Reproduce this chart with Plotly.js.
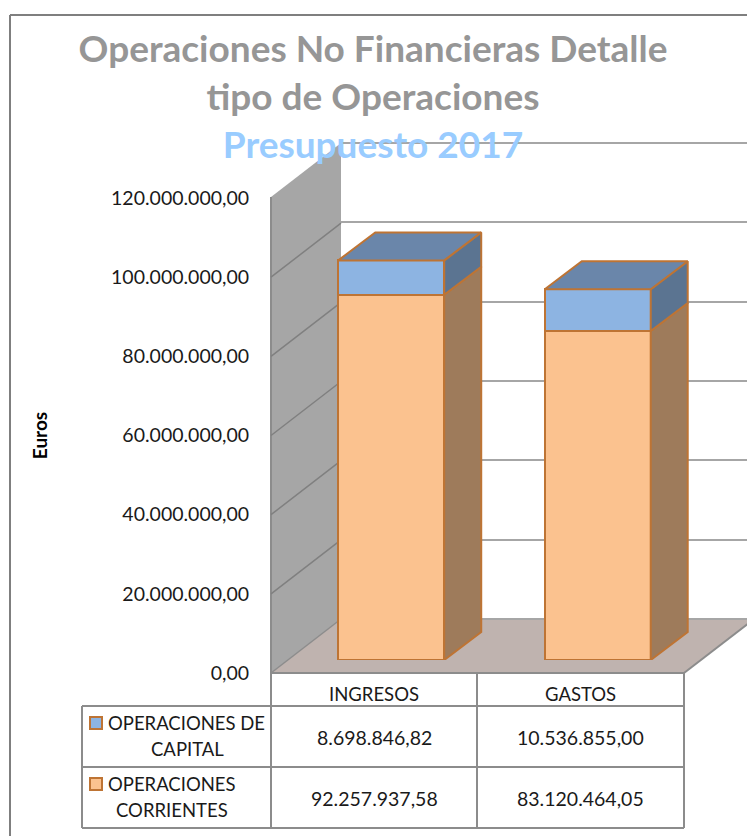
<!DOCTYPE html>
<html>
<head>
<meta charset="utf-8">
<script src="https://cdn.plot.ly/plotly-3.0.1.min.js"></script>
<style>html,body{margin:0;padding:0;background:#fff;overflow:hidden}#chart{width:747px;height:836px}</style>
</head>
<body>
<div id="chart"></div>
<script>
// ---- data ----
var categories = ['INGRESOS', 'GASTOS'];
var capital = [8698846.82, 10536855.00];
var corrientes = [92257937.58, 83120464.05];
var capitalLines = ['OPERACIONES DE', 'CAPITAL'];
var corrientesLines = ['OPERACIONES', 'CORRIENTES'];
var yTicks = [0, 20000000, 40000000, 60000000, 80000000, 100000000, 120000000];
var titleLines = ['Operaciones No Financieras Detalle', 'tipo de Operaciones'];
var subtitle = 'Presupuesto 2017';
var yTitle = 'Euros';

// ---- page geometry helpers ----
var W = 747, H = 836;
function X(p) { return p / W; }
function Y(p) { return 1 - p / H; }
var yMax = 120000000;
var pxPerUnit = 475 / yMax;
var barWidth = 0.513;
var depthX = 37 / 206.5;          // bar depth in category units
var depthY = 28 / pxPerUnit;      // bar depth in value units
var wallDy = 54 / pxPerUnit;      // axis plane to back wall, value units
var gridPad = 2 / pxPerUnit;      // keeps the end gridlines inside the wall axis

// ---- colours ----
var edge = '#BE7434';
var grey = '#A6A6A6', lineGrey = '#8C8C8C', textCol = '#1a1a1a';
var font = 'Lato, "Open Sans", sans-serif';

function fmt(n) {
  var s = n.toFixed(2).split('.');
  return s[0].replace(/\B(?=(\d{3})+$)/g, '.') + ',' + s[1];
}

// ---- 3D faces, derived from the values ----
function sideFace(bottoms, tops) {
  var xs = [], ys = [];
  categories.forEach(function (c, i) {
    var r = i + barWidth / 2;
    xs.push(r, r + depthX, r + depthX, r, r, null);
    ys.push(bottoms[i], bottoms[i] + depthY, tops[i] + depthY, tops[i], bottoms[i], null);
  });
  return { x: xs, y: ys };
}
function topFace(tops) {
  var xs = [], ys = [];
  categories.forEach(function (c, i) {
    var l = i - barWidth / 2, r = i + barWidth / 2;
    xs.push(l, l + depthX, r + depthX, r, l, null);
    ys.push(tops[i], tops[i] + depthY, tops[i] + depthY, tops[i], tops[i], null);
  });
  return { x: xs, y: ys };
}
var zeros = categories.map(function () { return 0; });
var totals = corrientes.map(function (v, i) { return v + capital[i]; });
var xIdx = categories.map(function (c, i) { return i; });

function faceTrace(f, color) {
  return {
    type: 'scatter', mode: 'lines', x: f.x, y: f.y, xaxis: 'x2', yaxis: 'y2',
    fill: 'toself', fillcolor: color, line: { color: edge, width: 2 },
    hoverinfo: 'skip', showlegend: false, cliponaxis: false
  };
}

var traces = [
  { type: 'bar', name: 'OPERACIONES CORRIENTES', x: xIdx, y: corrientes, width: barWidth,
    xaxis: 'x2', yaxis: 'y2', marker: { color: '#FBC28F', line: { color: edge, width: 2 } }, showlegend: false },
  { type: 'bar', name: 'OPERACIONES DE CAPITAL', x: xIdx, y: capital, width: barWidth,
    xaxis: 'x2', yaxis: 'y2', marker: { color: '#8DB4E2', line: { color: edge, width: 2 } }, showlegend: false },
  faceTrace(sideFace(zeros, corrientes), '#9E7B5B'),
  faceTrace(sideFace(corrientes, totals), '#5B7491'),
  faceTrace(topFace(totals), '#6A86AA'),
  // keep the wall and label axes alive
  { type: 'scatter', mode: 'none', x: [0], y: [0], xaxis: 'x', yaxis: 'y', hoverinfo: 'skip', showlegend: false },
  { type: 'scatter', mode: 'none', x: [0], y: [0], xaxis: 'x3', yaxis: 'y3', hoverinfo: 'skip', showlegend: false }
];

// ---- scenery ----
function poly(pts, fill, lineColor, lineWidth, layer) {
  var d = pts.map(function (p, i) { return (i ? 'L' : 'M') + X(p[0]) + ',' + Y(p[1]); }).join('') + 'Z';
  return { type: 'path', xref: 'paper', yref: 'paper', path: d, fillcolor: fill,
    line: { color: lineColor, width: lineWidth }, layer: layer || 'below' };
}
function seg(x0, y0, x1, y1, color, width, layer) {
  return { type: 'line', xref: 'paper', yref: 'paper', x0: X(x0), y0: Y(y0), x1: X(x1), y1: Y(y1),
    line: { color: color, width: width }, layer: layer || 'above' };
}
var shapes = [
  seg(10, 836, 10, 15, '#7F7F7F', 2),
  seg(10, 15, 747, 15, '#7F7F7F', 2),
  poly([[271, 197], [341, 143], [341, 619], [271, 673]], grey, 'rgba(0,0,0,0)', 0),
  poly([[271, 673], [341, 619], [754, 619], [684, 673]], '#BFB3AF', 'rgba(0,0,0,0)', 0),
  seg(271, 197, 271, 673, lineGrey, 2, 'below'),
  seg(271, 673, 684, 673, lineGrey, 2, 'below'),
  seg(684, 673, 754, 619, lineGrey, 2, 'below'),
  seg(271, 673, 341, 619, lineGrey, 1.5, 'below')
];
// wall diagonals at each tick
yTicks.slice(1, -1).forEach(function (v) {
  shapes.push({ type: 'line', xref: 'paper', yref: 'y3', x0: X(271), x1: X(341), y0: v, y1: v + wallDy,
    line: { color: '#808080', width: 1.5 }, layer: 'below' });
});
// table rules
var colX = [271, 477, 684], rowY = [673, 706, 767, 828], tableL = 82;
colX.forEach(function (x) { shapes.push(seg(x, 673, x, 828, lineGrey, 2)); });
shapes.push(seg(tableL, 706, tableL, 828, lineGrey, 2));
shapes.push(seg(tableL, 706, 684, 706, lineGrey, 2));
shapes.push(seg(tableL, 767, 684, 767, lineGrey, 2));
shapes.push(seg(tableL, 828, 684, 828, lineGrey, 2));
// legend keys
shapes.push(poly([[90, 717], [102, 717], [102, 729], [90, 729]], '#8DB4E2', edge, 2, 'above'));
shapes.push(poly([[90, 778], [102, 778], [102, 790], [90, 790]], '#FBC28F', edge, 2, 'above'));

// ---- table text ----
var labelFont = { family: font, size: 18.5, color: textCol };
var numFont = { family: font, size: 19.5, color: textCol };
function txt(t, x, y, anchor, f) {
  return { text: t, xref: 'paper', yref: 'paper', x: X(x), y: Y(y), xanchor: anchor || 'center',
    yanchor: 'middle', showarrow: false, font: f || labelFont };
}
var annotations = [];
categories.forEach(function (c, i) {
  var cx = (colX[i] + colX[i + 1]) / 2;
  annotations.push(txt(c, cx, 694));
  annotations.push(txt(fmt(capital[i]), cx, 737, 'center', numFont));
  annotations.push(txt(fmt(corrientes[i]), cx, 798, 'center', numFont));
});
annotations.push(txt(capitalLines[0], 106, 723, 'left'));
annotations.push(txt(capitalLines[1], 187, 749));
annotations.push(txt(corrientesLines[0], 106, 784, 'left'));
annotations.push(txt(corrientesLines[1], 172, 810));

var hidden = { visible: false, fixedrange: true };
var layout = {
  width: W, height: H, margin: { l: 0, r: 0, t: 0, b: 0 },
  paper_bgcolor: '#fff', plot_bgcolor: 'rgba(0,0,0,0)',
  separators: ',.', barmode: 'stack', showlegend: false,
  title: {
    text: titleLines.join('<br>') + '<br><span style="color:#99CCFF">' + subtitle + '</span>',
    x: X(373), xanchor: 'center', xref: 'paper', y: Y(62), yanchor: 'top', yref: 'paper',
    font: { family: font, size: 37, color: '#969696', weight: 700 }
  },
  // back wall gridlines
  xaxis: Object.assign({}, hidden, { domain: [X(341), 1], range: [0, 1] }),
  yaxis: { domain: [Y(621), Y(141)], range: [-gridPad, yMax + gridPad], tickvals: yTicks, showticklabels: false, ticks: '',
    showgrid: true, gridcolor: grey, gridwidth: 2, zeroline: false, showline: false, fixedrange: true },
  // bar plane
  xaxis2: Object.assign({}, hidden, { domain: [X(288), X(701)], range: [-0.5, 1.5], anchor: 'y2' }),
  yaxis2: Object.assign({}, hidden, { domain: [Y(660), Y(185)], range: [0, yMax], anchor: 'x2' }),
  // labelled axis plane
  xaxis3: Object.assign({}, hidden, { domain: [X(271), X(684)], range: [0, 1], anchor: 'y3' }),
  yaxis3: { domain: [Y(673), Y(198)], range: [0, yMax], anchor: 'x3', tickvals: yTicks, tickformat: ',.2f',
    showgrid: false, zeroline: false, showline: false, ticks: 'outside', ticklen: 17, tickcolor: 'rgba(0,0,0,0)',
    tickfont: { family: font, size: 19.5, color: textCol }, fixedrange: true,
    title: { text: '<b>' + yTitle + '</b>', standoff: 58, font: { family: font, size: 19, color: '#000' } } },
  shapes: shapes, annotations: annotations
};
Plotly.newPlot('chart', traces, layout, { displayModeBar: false, staticPlot: true });
</script>
</body>
</html>
